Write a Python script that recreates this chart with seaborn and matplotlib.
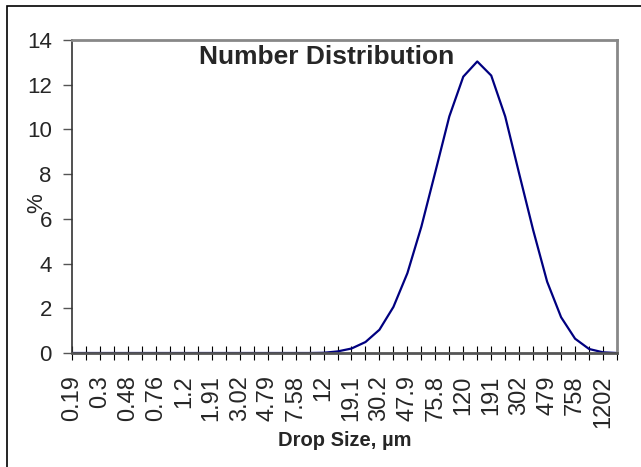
import numpy as np
import pandas as pd
import matplotlib
matplotlib.use('Agg')
import matplotlib.pyplot as plt
import seaborn as sns
from matplotlib.patches import Rectangle

# drop size classes (um) - every other one is labelled on the axis
sizes = ['0.19', '0.24', '0.3', '0.38', '0.48', '0.6', '0.76', '0.95', '1.2', '1.51',
         '1.91', '2.4', '3.02', '3.8', '4.79', '6.03', '7.58', '9.55', '12', '15.1',
         '19.1', '24', '30.2', '38', '47.9', '60.3', '75.8', '95.5', '120', '151',
         '191', '240', '302', '380', '479', '603', '758', '955', '1202', '1513']
# number distribution, %
pct = [0, 0, 0, 0, 0, 0, 0, 0, 0, 0,
       0, 0, 0, 0, 0, 0, 0, 0, 0.01, 0.07,
       0.2, 0.49, 1.04, 2.06, 3.57, 5.65, 8.1, 10.58, 12.36, 13.04,
       12.41, 10.58, 8.02, 5.5, 3.19, 1.6, 0.64, 0.18, 0.03, 0.0]

df = pd.DataFrame({'pos': np.arange(len(sizes)), 'size': sizes, 'pct': pct})

sns.set_style('white')
plt.rcParams['font.family'] = ['Liberation Sans', 'DejaVu Sans']

fig = plt.figure(figsize=(6.41, 4.67), dpi=100)
ax = fig.add_axes([72/641, 1-353/467, 545/641, 313/467])

sns.lineplot(data=df, x='pos', y='pct', color='#000080', linewidth=1.6, ax=ax)

ax.set_xlim(0, len(sizes)-1)
ax.set_ylim(0, 14)
ax.set_yticks(range(0, 15, 2))
ax.set_xticks(df['pos'])
ax.set_xticklabels([s if i % 2 == 0 else '' for i, s in enumerate(sizes)], rotation=90)

ax.tick_params(axis='x', direction='inout', length=10, width=0.8, color='black',
               labelsize=17, pad=11, bottom=True)
ax.tick_params(axis='y', direction='out', length=6.5, width=1, color='#555555',
               labelsize=16, pad=8, left=True)

for side in ['top', 'right']:
    ax.spines[side].set_color('#888888')
    ax.spines[side].set_linewidth(2)
ax.spines['left'].set_color('#333333')
ax.spines['left'].set_linewidth(1.2)
ax.spines['bottom'].set_color('#555555')
ax.spines['bottom'].set_linewidth(2)

ax.set_xlabel('Drop Size, µm', fontsize=14.5, fontweight='bold', labelpad=2)
ax.set_ylabel('%', fontsize=16)
ax.yaxis.set_label_coords(-0.045, 0.479)

ax.text(0.468, 0.985, 'Number Distribution', transform=ax.transAxes,
        ha='center', va='top', fontsize=19, fontweight='bold')

# outer chart border
fig.patches.append(Rectangle((7/641, -0.05), 1.1, 1-6/467+0.05, transform=fig.transFigure,
                             fill=False, edgecolor='black', linewidth=1.2, clip_on=False))

fig.savefig('out.png', dpi=100)
